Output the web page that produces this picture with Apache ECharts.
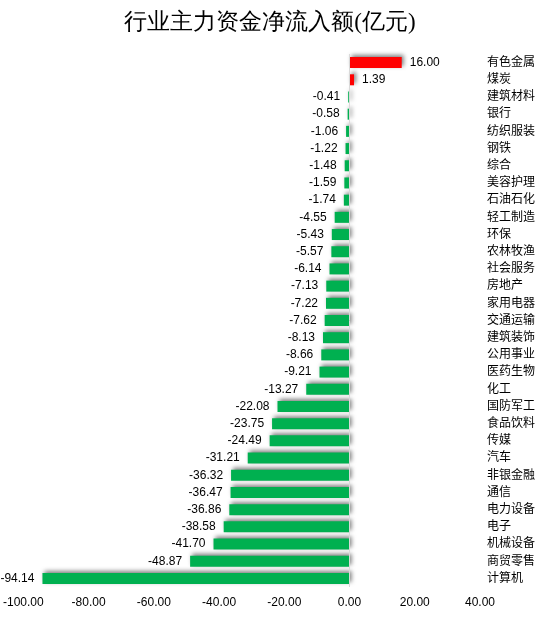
<!DOCTYPE html>
<html><head><meta charset="utf-8">
<script src="https://cdn.jsdelivr.net/npm/echarts@6/dist/echarts.min.js"></script>
<style>html,body{margin:0;padding:0;background:#fff}#c{width:540px;height:619px}</style>
</head><body><div id="c"></div>
<script>
const categories = ['有色金属','煤炭','建筑材料','银行','纺织服装','钢铁','综合','美容护理','石油石化','轻工制造','环保','农林牧渔','社会服务','房地产','家用电器','交通运输','建筑装饰','公用事业','医药生物','化工','国防军工','食品饮料','传媒','汽车','非银金融','通信','电力设备','电子','机械设备','商贸零售','计算机'];
const values = [16.00,1.39,-0.41,-0.58,-1.06,-1.22,-1.48,-1.59,-1.74,-4.55,-5.43,-5.57,-6.14,-7.13,-7.22,-7.62,-8.13,-8.66,-9.21,-13.27,-22.08,-23.75,-24.49,-31.21,-36.32,-36.47,-36.86,-38.58,-41.70,-48.87,-94.14];
const titleText = '行业主力资金净流入额(亿元)';
const posColor = '#ff0000', negColor = '#00b050';
const font = "'Liberation Sans','Noto Sans CJK SC',sans-serif";
const chart = echarts.init(document.getElementById('c'));
chart.setOption({
  animation:false,
  title:{text:titleText,left:'center',top:6,textStyle:{fontFamily:"serif",fontWeight:'normal',fontSize:23,color:'#000'}},
  grid:{left:21,right:60,top:54,bottom:32,containLabel:false},
  xAxis:{type:'value',min:-100,max:40,interval:20,
    axisLine:{show:false},axisTick:{show:false},splitLine:{show:false},
    axisLabel:{formatter:v=>v.toFixed(2),color:'#000',fontSize:12,fontFamily:font,margin:10}},
  yAxis:{type:'category',data:categories,inverse:true,position:'right',
    axisLine:{show:false},axisTick:{show:false},
    axisLabel:{color:'#000',fontSize:12,fontFamily:font,margin:7,align:'left'}},
  series:[{type:'bar',barWidth:11,
    data:values.map(v=>({value:v,itemStyle:{color:v>=0?posColor:negColor},
      label:{position:v>=0?'right':'left'}})),
    itemStyle:{shadowBlur:4,shadowColor:'rgba(0,0,0,0.5)',shadowOffsetX:2,shadowOffsetY:-2},
    label:{show:true,formatter:p=>p.value.toFixed(2),color:'#000',fontSize:12,fontFamily:font,distance:8},
    markLine:{silent:true,symbol:'none',label:{show:false},lineStyle:{color:'#d9d9d9',width:1,type:'solid'},data:[{xAxis:0}]}
  }]
});
</script></body></html>
